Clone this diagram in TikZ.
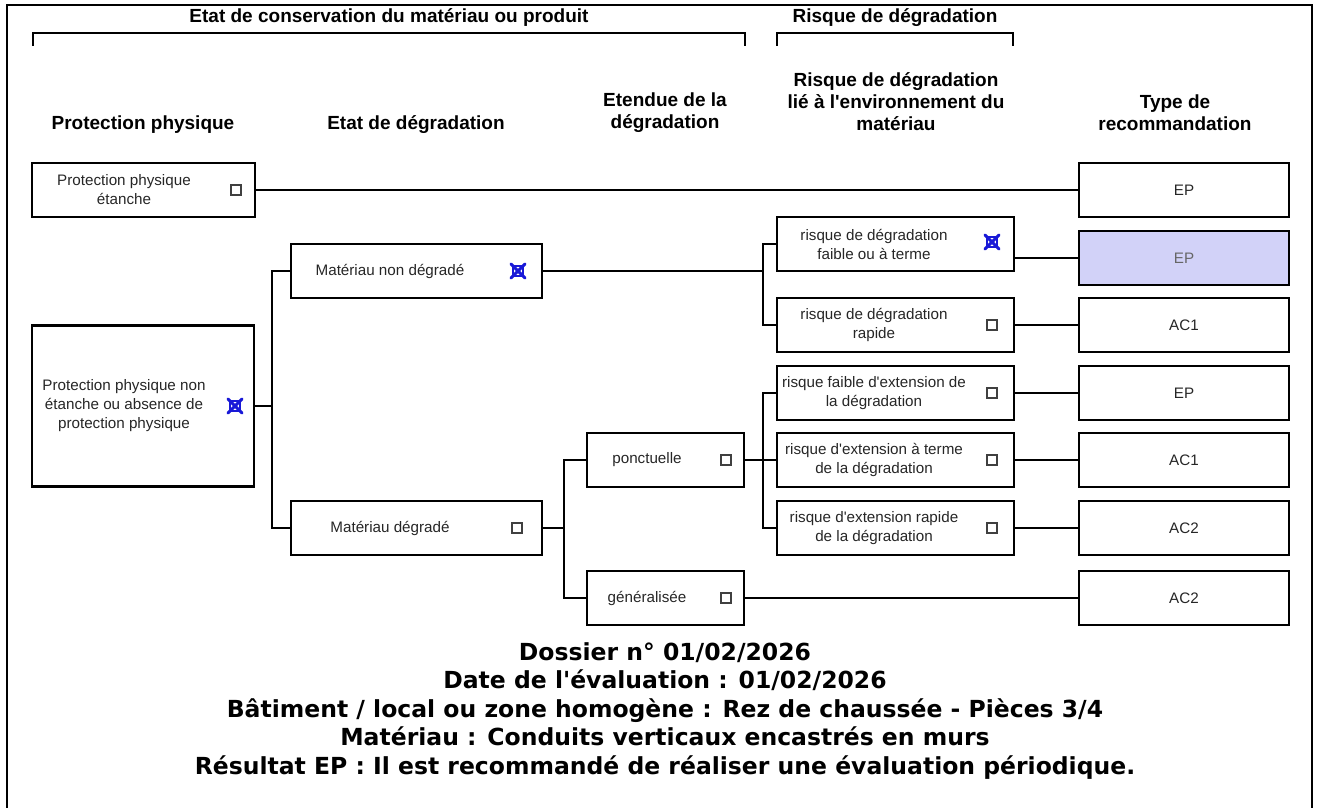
\documentclass[tikz,border=0pt]{standalone}
\usepackage{fontspec}
\setmainfont{Liberation Sans}
\newfontfamily\verdana{DejaVu Sans}
\usepackage{tikz}
\definecolor{choix}{RGB}{210,210,248}
\definecolor{bleucoche}{RGB}{25,25,215}

\begin{document}
\begin{tikzpicture}[x=1pt,y=1pt]
			\tikzstyle{every node}+=[inner sep=0pt]
			\tikzstyle{titre}=[font=\fontsize{19}{22}\selectfont\bfseries, align=center]
			\tikzstyle{boite}=[draw=black, line width=2.1pt, rectangle, minimum height=54pt]
			\tikzstyle{texte}=[font=\fontsize{15.2}{19}\selectfont, align=center, text=black!85]
			\tikzstyle{case}=[draw=black!75, line width=1.2pt, minimum size=10pt]
			\tikzstyle{cochee}=[draw=bleucoche, line width=1.3pt, minimum size=10pt]
			\tikzstyle{croix}=[bleucoche, line width=3pt, line cap=round]
			\tikzstyle{lien}=[line width=2.1pt]
			\useasboundingbox (0,0) rectangle (1317,-808);
			\draw [line width=2pt] (7,-808) -- (7,-5) -- (1312,-5) -- (1312,-808);
			% titres
			\node [titre] (gtitre1) at (389,-18) {Etat de conservation du matériau ou produit};
			\draw [lien] (33,-46) -- (33,-33) -- (745,-33) -- (745,-46);
			\node [titre] (gtitre2) at (895,-18) {Risque de dégradation};
			\draw [lien] (777,-46) -- (777,-33) -- (1013,-33) -- (1013,-46);
			\node [titre] (col1) at (143,-125) {Protection physique};
			\node [titre] (col2) at (416,-125) {Etat de dégradation};
			\node [titre] (col3) at (665,-113) {Etendue de la\\dégradation};
			\node [titre] (col4) at (896,-102) {Risque de dégradation\\lié à l\textquotesingle environnement du\\matériau};
			\node [titre] (col5) at (1175,-113) {Type de\\recommandation};
			% protection physique
			\node [boite, minimum width=223pt] (PPE) at (143.5,-190) {};
			\node [texte] (PPEt) at (124,-190) {Protection physique\\étanche};
			\node [case] (PPEc) at (236,-190) {};
			\node [boite, minimum width=222pt, minimum height=161pt] (PPN) at (143,-406) {};
			\node [texte] (PPNt) at (124,-406) {Protection physique non\\étanche ou absence de\\protection physique};
			\node [cochee] (PPNc) at (235,-406) {};
			\draw [croix] ([shift={(-1.5,1.5)}]PPNc.north west) -- ([shift={(1.5,-1.5)}]PPNc.south east) ([shift={(1.5,1.5)}]PPNc.north east) -- ([shift={(-1.5,-1.5)}]PPNc.south west);
			% etat de degradation
			\node [boite, minimum width=251pt] (MND) at (416.5,-271) {};
			\node [texte] (MNDt) at (390,-271) {Matériau non dégradé};
			\node [cochee] (MNDc) at (518,-271) {};
			\draw [croix] ([shift={(-1.5,1.5)}]MNDc.north west) -- ([shift={(1.5,-1.5)}]MNDc.south east) ([shift={(1.5,1.5)}]MNDc.north east) -- ([shift={(-1.5,-1.5)}]MNDc.south west);
			\node [boite, minimum width=251pt] (MD) at (416.5,-528) {};
			\node [texte] (MDt) at (390,-528) {Matériau dégradé};
			\node [case] (MDc) at (517,-528) {};
			% etendue
			\node [boite, minimum width=157pt] (pon) at (665.5,-460) {};
			\node [texte] (pont) at (647,-460) {ponctuelle};
			\node [case] (ponc) at (726,-460) {};
			\node [boite, minimum width=157pt] (gen) at (665.5,-598) {};
			\node [texte] (gent) at (647,-598) {généralisée};
			\node [case] (genc) at (726,-598) {};
			% risque
			\node [boite, minimum width=237pt] (R1) at (895.5,-244) {};
			\node [texte] (R1t) at (874,-244) {risque de dégradation\\faible ou à terme};
			\node [cochee] (R1c) at (992,-242) {};
			\draw [croix] ([shift={(-1.5,1.5)}]R1c.north west) -- ([shift={(1.5,-1.5)}]R1c.south east) ([shift={(1.5,1.5)}]R1c.north east) -- ([shift={(-1.5,-1.5)}]R1c.south west);
			\node [boite, minimum width=237pt] (R2) at (895.5,-325) {};
			\node [texte] (R2t) at (874,-325) {risque de dégradation\\rapide};
			\node [case] (R2c) at (992,-325) {};
			\node [boite, minimum width=237pt] (R3) at (895.5,-393) {};
			\node [texte] (R3t) at (874,-393) {risque faible d\textquotesingle extension de\\la dégradation};
			\node [case] (R3c) at (992,-393) {};
			\node [boite, minimum width=237pt] (R4) at (895.5,-460) {};
			\node [texte] (R4t) at (874,-460) {risque d\textquotesingle extension à terme\\de la dégradation};
			\node [case] (R4c) at (992,-460) {};
			\node [boite, minimum width=237pt] (R5) at (895.5,-528) {};
			\node [texte] (R5t) at (874,-528) {risque d\textquotesingle extension rapide\\de la dégradation};
			\node [case] (R5c) at (992,-528) {};
			% recommandations
			\node [boite, minimum width=210pt, texte] (T1) at (1184,-190) {EP};
			\node [boite, minimum width=210pt, texte, fill=choix, text=black!60] (T2) at (1184,-258) {EP};
			\node [boite, minimum width=210pt, texte] (T3) at (1184,-325) {AC1};
			\node [boite, minimum width=210pt, texte] (T4) at (1184,-393) {EP};
			\node [boite, minimum width=210pt, texte] (T5) at (1184,-460) {AC1};
			\node [boite, minimum width=210pt, texte] (T6) at (1184,-528) {AC2};
			\node [boite, minimum width=210pt, texte] (T7) at (1184,-598) {AC2};
			% liens
			\coordinate (n1) at (272,-406);
			\coordinate (n2) at (564,-528);
			\coordinate (n3) at (763,-271);
			\coordinate (n4) at (763,-460);
			\draw [lien] (PPE.east) -- (T1.west);
			\draw [lien] (PPN.east) -- (n1);
			\draw [lien] (MND.west) -| (n1) |- (MD.west);
			\draw [lien] (MD.east) -- (n2);
			\draw [lien] (pon.west) -| (n2) |- (gen.west);
			\draw [lien] (gen.east) -- (T7.west);
			\draw [lien] (MND.east) -- (n3);
			\draw [lien] (R1.west) -| (n3) |- (R2.west);
			\draw [lien] (R1.east |- T2.west) -- (T2.west);
			\draw [lien] (R2.east) -- (T3.west);
			\draw [lien] (pon.east) -- (R4.west);
			\draw [lien] (R3.west) -| (n4) |- (R5.west);
			\draw [lien] (R3.east) -- (T4.west);
			\draw [lien] (R4.east) -- (T5.west);
			\draw [lien] (R5.east) -- (T6.west);
			% bilan
			\node [font=\verdana\bfseries\fontsize{23.5}{28.5}\selectfont, align=center] (bilan) at (665,-711) {Dossier n° 01/02/2026\\Date de l\textquotesingle évaluation : 01/02/2026\\Bâtiment / local ou zone homogène : Rez de chaussée - Pièces 3/4\\Matériau : Conduits verticaux encastrés en murs\\Résultat EP : Il est recommandé de réaliser une évaluation périodique.};
\end{tikzpicture}
\end{document}
